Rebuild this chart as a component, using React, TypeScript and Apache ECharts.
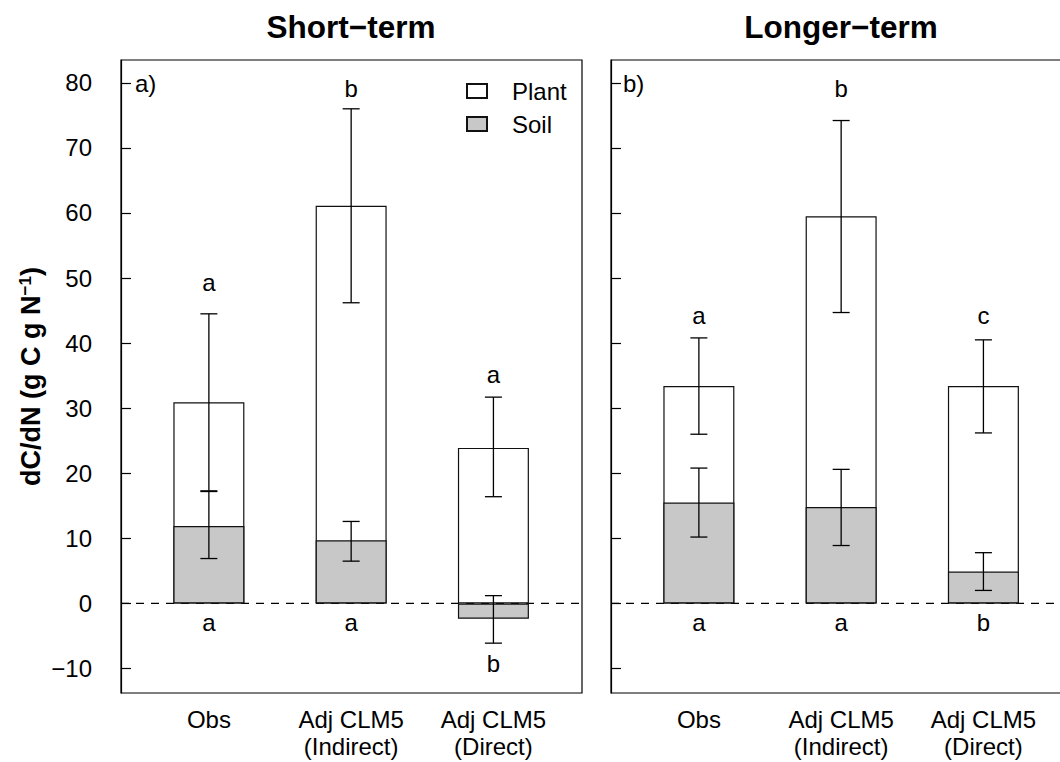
import React, { useEffect, useRef } from "react";
import * as echarts from "echarts";

const categories = ["Obs", "Adj CLM5\n(Indirect)", "Adj CLM5\n(Direct)"];
const xPos = [1, 2, 3];
const yTicks = [-10, 0, 10, 20, 30, 40, 50, 60, 70, 80];

// Short-term
const shortTotal = [30.9, 61.1, 23.9];
const shortSoil = [11.9, 9.7, -2.35];
const shortPlantHi = [44.5, 76.0, 31.7];
const shortPlantLo = [17.3, 46.2, 16.4];
const shortSoilHi = [17.2, 12.6, 1.2];
const shortSoilLo = [6.9, 6.5, -6.1];
const shortTopLetters = ["a", "b", "a"];
const shortTopY = [49.3, 79.1, 35.2];
const shortBottomLetters = ["a", "a", "b"];
const shortBottomY = [-2.9, -2.9, -9.2];

// Longer-term
const longTotal = [33.4, 59.5, 33.4];
const longSoil = [15.5, 14.8, 4.9];
const longPlantHi = [40.8, 74.2, 40.5];
const longPlantLo = [26.0, 44.7, 26.2];
const longSoilHi = [20.8, 20.6, 7.8];
const longSoilLo = [10.2, 8.9, 2.0];
const longTopLetters = ["a", "b", "c"];
const longTopY = [44.2, 79.1, 44.2];
const longBottomLetters = ["a", "a", "b"];
const longBottomY = [-2.9, -2.9, -2.9];

const X_MIN = 0.3823;
const X_MAX = 3.6226;
const Y_MIN = -13.76;
const Y_MAX = 83.5;

const FONT = "Liberation Sans, Arial, Helvetica, sans-serif";
const SOIL_COLOR = "#c8c8c8";

function errorRender(params: any, api: any) {
  const x = api.value(0);
  const lo = api.value(1);
  const hi = api.value(2);
  const pHi = api.coord([x, hi]);
  const pLo = api.coord([x, lo]);
  const hw = 8.5;
  const style = { stroke: "#000", lineWidth: 1.3 };
  return {
    type: "group",
    children: [
      { type: "line", shape: { x1: pHi[0], y1: pHi[1], x2: pLo[0], y2: pLo[1] }, style },
      { type: "line", shape: { x1: pHi[0] - hw, y1: pHi[1], x2: pHi[0] + hw, y2: pHi[1] }, style },
      { type: "line", shape: { x1: pLo[0] - hw, y1: pLo[1], x2: pLo[0] + hw, y2: pLo[1] }, style },
    ],
  };
}

function panelSeries(
  idx: number,
  total: number[],
  soil: number[],
  plantHi: number[],
  plantLo: number[],
  soilHi: number[],
  soilLo: number[],
  topLetters: string[],
  topY: number[],
  bottomLetters: string[],
  bottomY: number[]
) {
  const axes = { xAxisIndex: idx, yAxisIndex: idx };
  const letterSeries = (letters: string[], ys: number[]) => ({
    type: "scatter",
    ...axes,
    symbol: "circle",
    symbolSize: 1,
    itemStyle: { color: "rgba(0,0,0,0)", opacity: 1 },
    silent: true,
    z: 5,
    label: {
      show: true,
      position: "inside",
      formatter: "{b}",
      fontSize: 24,
      fontFamily: FONT,
      color: "#000",
      textBorderWidth: 0,
      textBorderColor: "transparent",
    },
    data: xPos.map((x, i) => ({ name: letters[i], value: [x, ys[i]] })),
  });
  return [
    {
      type: "line",
      ...axes,
      data: [
        [X_MIN, 0],
        [X_MAX, 0],
      ],
      symbol: "none",
      silent: true,
      z: 1,
      lineStyle: { color: "#000", width: 1.2, type: [8, 7] },
    },
    {
      type: "bar",
      name: "Plant",
      ...axes,
      barWidth: 71,
      barGap: "-100%",
      z: 2,
      itemStyle: { color: "#fff", borderColor: "#111", borderWidth: 1.2 },
      data: xPos.map((x, i) => [x, total[i]]),
    },
    {
      type: "bar",
      name: "Soil",
      ...axes,
      barWidth: 71,
      barGap: "-100%",
      z: 2,
      itemStyle: { color: SOIL_COLOR, borderColor: "#111", borderWidth: 1.2 },
      data: xPos.map((x, i) => [x, soil[i]]),
    },
    {
      type: "custom",
      ...axes,
      z: 3,
      silent: true,
      renderItem: errorRender,
      encode: { x: 0, y: [1, 2] },
      data: xPos.map((x, i) => [x, plantLo[i], plantHi[i]]),
    },
    {
      type: "custom",
      ...axes,
      z: 3,
      silent: true,
      renderItem: errorRender,
      encode: { x: 0, y: [1, 2] },
      data: xPos.map((x, i) => [x, soilLo[i], soilHi[i]]),
    },
    letterSeries(topLetters, topY),
    letterSeries(bottomLetters, bottomY),
  ];
}

function xAxisDef(idx: number) {
  return {
    type: "value",
    gridIndex: idx,
    min: X_MIN,
    max: X_MAX,
    axisLine: { show: false },
    axisTick: { show: false },
    splitLine: { show: false },
    axisLabel: {
      customValues: xPos,
      formatter: (v: number) => categories[Math.round(v) - 1],
      fontSize: 24,
      lineHeight: 27,
      margin: 13,
      color: "#000",
      fontFamily: FONT,
    },
  };
}

function yAxisDef(idx: number) {
  const base: any = {
    type: "value",
    gridIndex: idx,
    min: Y_MIN,
    max: Y_MAX,
    splitLine: { show: false },
    axisLine: { show: true, lineStyle: { color: "#000", width: 1.2 } },
    axisTick: {
      show: true,
      inside: true,
      length: 10,
      customValues: yTicks,
      lineStyle: { color: "#000", width: 1.2 },
    },
    axisLabel: {
      show: idx === 0,
      customValues: yTicks,
      formatter: (v: number) => (v < 0 ? "\u2212" + Math.abs(v) : String(v)),
      fontSize: 24,
      margin: 29,
      color: "#000",
      fontFamily: FONT,
    },
  };
  if (idx === 0) {
    base.name = "{n|dC/dN (g C g N}{s|\u22121}{n|)}";
    base.nameLocation = "middle";
    base.nameGap = 77;
    base.nameTextStyle = {
      rich: {
        n: { fontSize: 27, fontWeight: "bold", fontFamily: FONT, color: "#000" },
        s: {
          fontSize: 17,
          fontWeight: "bold",
          fontFamily: FONT,
          color: "#000",
          verticalAlign: "top",
        },
      },
    };
  }
  return base;
}

export default function App() {
  const ref = useRef<HTMLDivElement>(null);
  useEffect(() => {
    if (!ref.current) return;
    const chart = echarts.init(ref.current, null, { renderer: "svg" });
    const gridCommon = {
      top: 60,
      height: 633,
      width: 461,
      show: true,
      borderColor: "#000",
      borderWidth: 1.2,
      backgroundColor: "transparent",
      containLabel: false,
      outerBoundsMode: "none",
    };
    chart.setOption({
      animation: false,
      backgroundColor: "#fff",
      textStyle: { fontFamily: FONT },
      title: [
        {
          text: "Short\u2212term",
          left: 351,
          top: 11,
          textAlign: "center",
          padding: 0,
          textStyle: { fontSize: 31.5, fontWeight: "bold", color: "#000", fontFamily: FONT },
        },
        {
          text: "Longer\u2212term",
          left: 841,
          top: 11,
          textAlign: "center",
          padding: 0,
          textStyle: { fontSize: 31.5, fontWeight: "bold", color: "#000", fontFamily: FONT },
        },
        {
          text: "a)",
          left: 135,
          top: 71,
          padding: 0,
          textStyle: { fontSize: 24, fontWeight: "normal", color: "#000", fontFamily: FONT },
        },
        {
          text: "b)",
          left: 623,
          top: 71,
          padding: 0,
          textStyle: { fontSize: 24, fontWeight: "normal", color: "#000", fontFamily: FONT },
        },
      ],
      legend: {
        data: ["Plant", "Soil"],
        orient: "vertical",
        left: 466,
        top: 79,
        padding: 0,
        itemWidth: 20,
        itemHeight: 14,
        itemGap: 9,
        icon: "rect",
        selectedMode: false,
        textStyle: {
          fontSize: 24,
          lineHeight: 24,
          color: "#000",
          fontFamily: FONT,
          padding: [0, 0, 0, 20],
        },
      },
      grid: [
        { ...gridCommon, left: 121 },
        { ...gridCommon, left: 611 },
      ],
      xAxis: [xAxisDef(0), xAxisDef(1)],
      yAxis: [yAxisDef(0), yAxisDef(1)],
      series: [
        ...panelSeries(
          0,
          shortTotal,
          shortSoil,
          shortPlantHi,
          shortPlantLo,
          shortSoilHi,
          shortSoilLo,
          shortTopLetters,
          shortTopY,
          shortBottomLetters,
          shortBottomY
        ),
        ...panelSeries(
          1,
          longTotal,
          longSoil,
          longPlantHi,
          longPlantLo,
          longSoilHi,
          longSoilLo,
          longTopLetters,
          longTopY,
          longBottomLetters,
          longBottomY
        ),
      ],
    });
    return () => chart.dispose();
  }, []);
  return (
    <div
      ref={ref}
      style={{ position: "fixed", left: 0, top: 0, width: 1060, height: 762, background: "#fff" }}
    />
  );
}
